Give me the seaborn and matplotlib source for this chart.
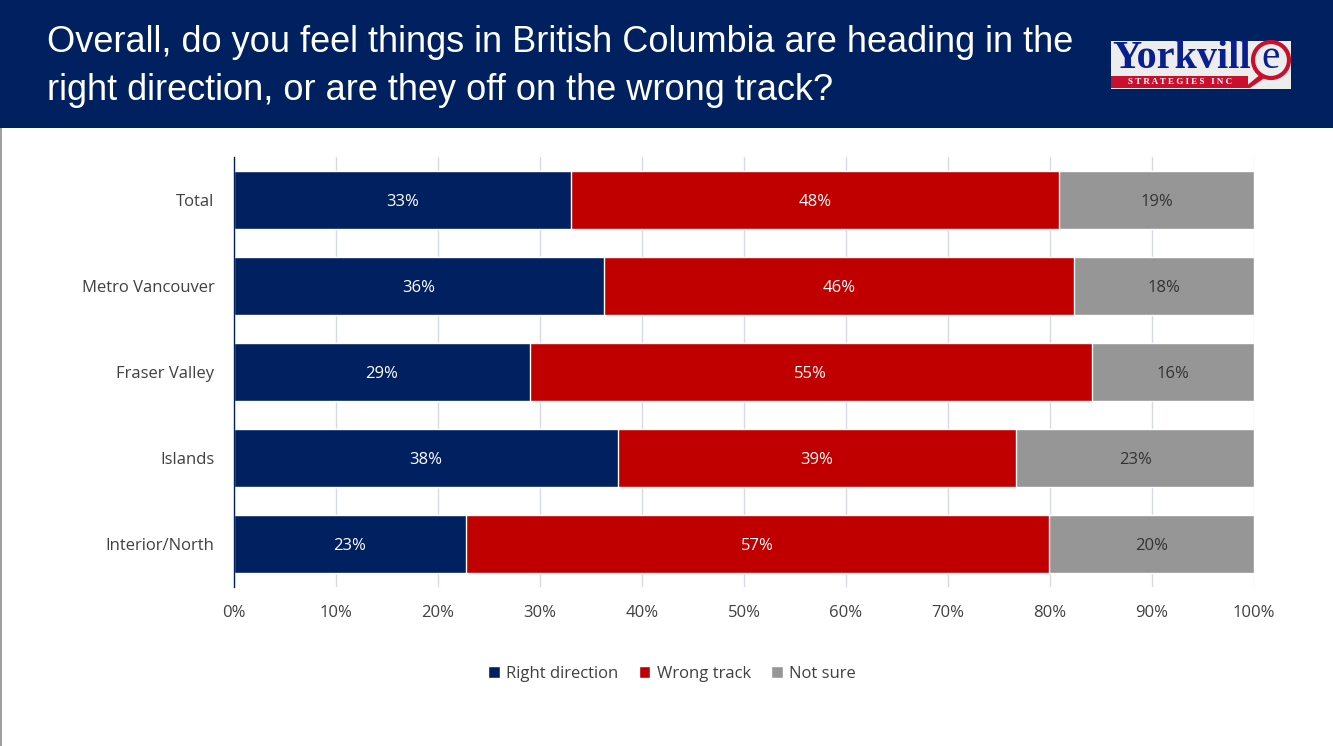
import matplotlib
matplotlib.use("Agg")
import matplotlib.pyplot as plt
from matplotlib.patches import Rectangle, Ellipse, Polygon
import pandas as pd
import seaborn as sns

regions = ["Total", "Metro Vancouver", "Fraser Valley", "Islands", "Interior/North"]
right_direction = [33.0, 36.3, 29.0, 37.6, 22.7]
wrong_track = [47.9, 46.1, 55.1, 39.1, 57.2]
not_sure = [19.1, 17.6, 15.9, 23.3, 20.1]
x_ticks = [0, 10, 20, 30, 40, 50, 60, 70, 80, 90, 100]

navy = "#002060"
red = "#C00000"
grey = "#969696"
text_col = "#404040"

df = pd.DataFrame({"region": regions, "right": right_direction,
                   "wrong": wrong_track, "unsure": not_sure})
df["cum_wrong"] = df["right"] + df["wrong"]
df["cum_all"] = df["cum_wrong"] + df["unsure"]

sns.set_style("white")
plt.rcParams["font.family"] = ["Open Sans", "DejaVu Sans"]

W, H = 1333, 746
fig = plt.figure(figsize=(13.33, 7.46), dpi=100)
fig.patch.set_facecolor("white")


def fx(px):
    return px / W


def fy(py):
    return 1 - py / H


# header band
fig.patches.append(Rectangle((0, fy(128)), 1, 128 / H, transform=fig.transFigure,
                             facecolor=navy, edgecolor="none", zorder=0))
fig.patches.append(Rectangle((0, 0), 1.5 / W, fy(128), transform=fig.transFigure,
                             facecolor="#A0A0A0", edgecolor="none", zorder=0))
fig.text(fx(47), fy(42), "Overall, do you feel things in British Columbia are heading in the",
         color="white", fontsize=26, family="Liberation Sans", va="center", ha="left")
fig.text(fx(47), fy(90), "right direction, or are they off on the wrong track?",
         color="white", fontsize=26, family="Liberation Sans", va="center", ha="left")

# logo
fig.patches.append(Rectangle((fx(1111), fy(89)), 180 / W, 48 / H, transform=fig.transFigure,
                             facecolor="#EDEDED", edgecolor="none", zorder=1))
fig.patches.append(Rectangle((fx(1111), fy(88)), 137 / W, 12 / H, transform=fig.transFigure,
                             facecolor="#C8102E", edgecolor="none", zorder=2))
fig.patches.append(Polygon([(fx(1244), fy(88)), (fx(1262), fy(73)), (fx(1266), fy(77)),
                            (fx(1250), fy(88))], closed=True, transform=fig.transFigure,
                           facecolor="#C8102E", edgecolor="none", zorder=2))
fig.text(fx(1112), fy(58), "Yorkvill", color="#0A1F8F", fontsize=29,
         family="Liberation Serif", fontweight="bold", va="center", ha="left", zorder=3)
fig.text(fx(1180), fy(82), "S T R A T E G I E S   I N C", color="white", fontsize=6.5,
         family="Liberation Serif", fontweight="bold", va="center", ha="center", zorder=3)
fig.patches.append(Ellipse((fx(1271), fy(60)), 36 / W, 36 / H, transform=fig.transFigure,
                           facecolor="#EDEDED", edgecolor="#C8102E", linewidth=3, zorder=3))
fig.text(fx(1271), fy(58), "e", color="#0A1F8F", fontsize=30,
         family="Liberation Serif", va="center", ha="center", zorder=4)

ax = fig.add_axes([fx(234), fy(587), 1020 / W, 430 / H])

bar_w = 58 / 86
sns.barplot(data=df, y="region", x="cum_all", color=grey, orient="h", width=bar_w,
            saturation=1, ax=ax, label="Not sure", zorder=2)
sns.barplot(data=df, y="region", x="cum_wrong", color=red, orient="h", width=bar_w,
            saturation=1, ax=ax, label="Wrong track", zorder=2)
sns.barplot(data=df, y="region", x="right", color=navy, orient="h", width=bar_w,
            saturation=1, ax=ax, label="Right direction", zorder=2)

for i, row in df.iterrows():
    starts = [0, row["right"], row["cum_wrong"]]
    vals = [row["right"], row["wrong"], row["unsure"]]
    cols = ["white", "white", "#333333"]
    for s, v, c in zip(starts, vals, cols):
        ax.text(s + v / 2, i, f"{v:.0f}%", color=c, fontsize=12, ha="center",
                va="center_baseline", zorder=3)

ax.set_xlim(0, 100)
ax.set_ylim(4.5, -0.5)
ax.set_xticks(x_ticks)
ax.set_xticklabels([f"{t}%" for t in x_ticks])
ax.set_xlabel("")
ax.set_ylabel("")
ax.xaxis.grid(True, color="#D5DAE5", linewidth=1, zorder=0)
ax.yaxis.grid(False)
ax.set_axisbelow(True)
ax.tick_params(axis="x", length=0, pad=13, labelsize=12, labelcolor=text_col)
ax.tick_params(axis="y", length=0, pad=14, labelsize=12, labelcolor=text_col)
for side in ["top", "right", "bottom"]:
    ax.spines[side].set_visible(False)
ax.spines["left"].set_color(navy)
ax.spines["left"].set_linewidth(1)

handles, labels = ax.get_legend_handles_labels()
order = [labels.index(n) for n in ["Right direction", "Wrong track", "Not sure"]]
ax.legend([handles[k] for k in order], [labels[k] for k in order], ncol=3, frameon=False,
          loc="center", bbox_to_anchor=(fx(672), fy(674)), bbox_transform=fig.transFigure,
          fontsize=12, handlelength=0.7, handleheight=0.7, handletextpad=0.4, columnspacing=1.2,
          labelcolor=text_col)

fig.savefig("out.png", dpi=100, facecolor="white")
